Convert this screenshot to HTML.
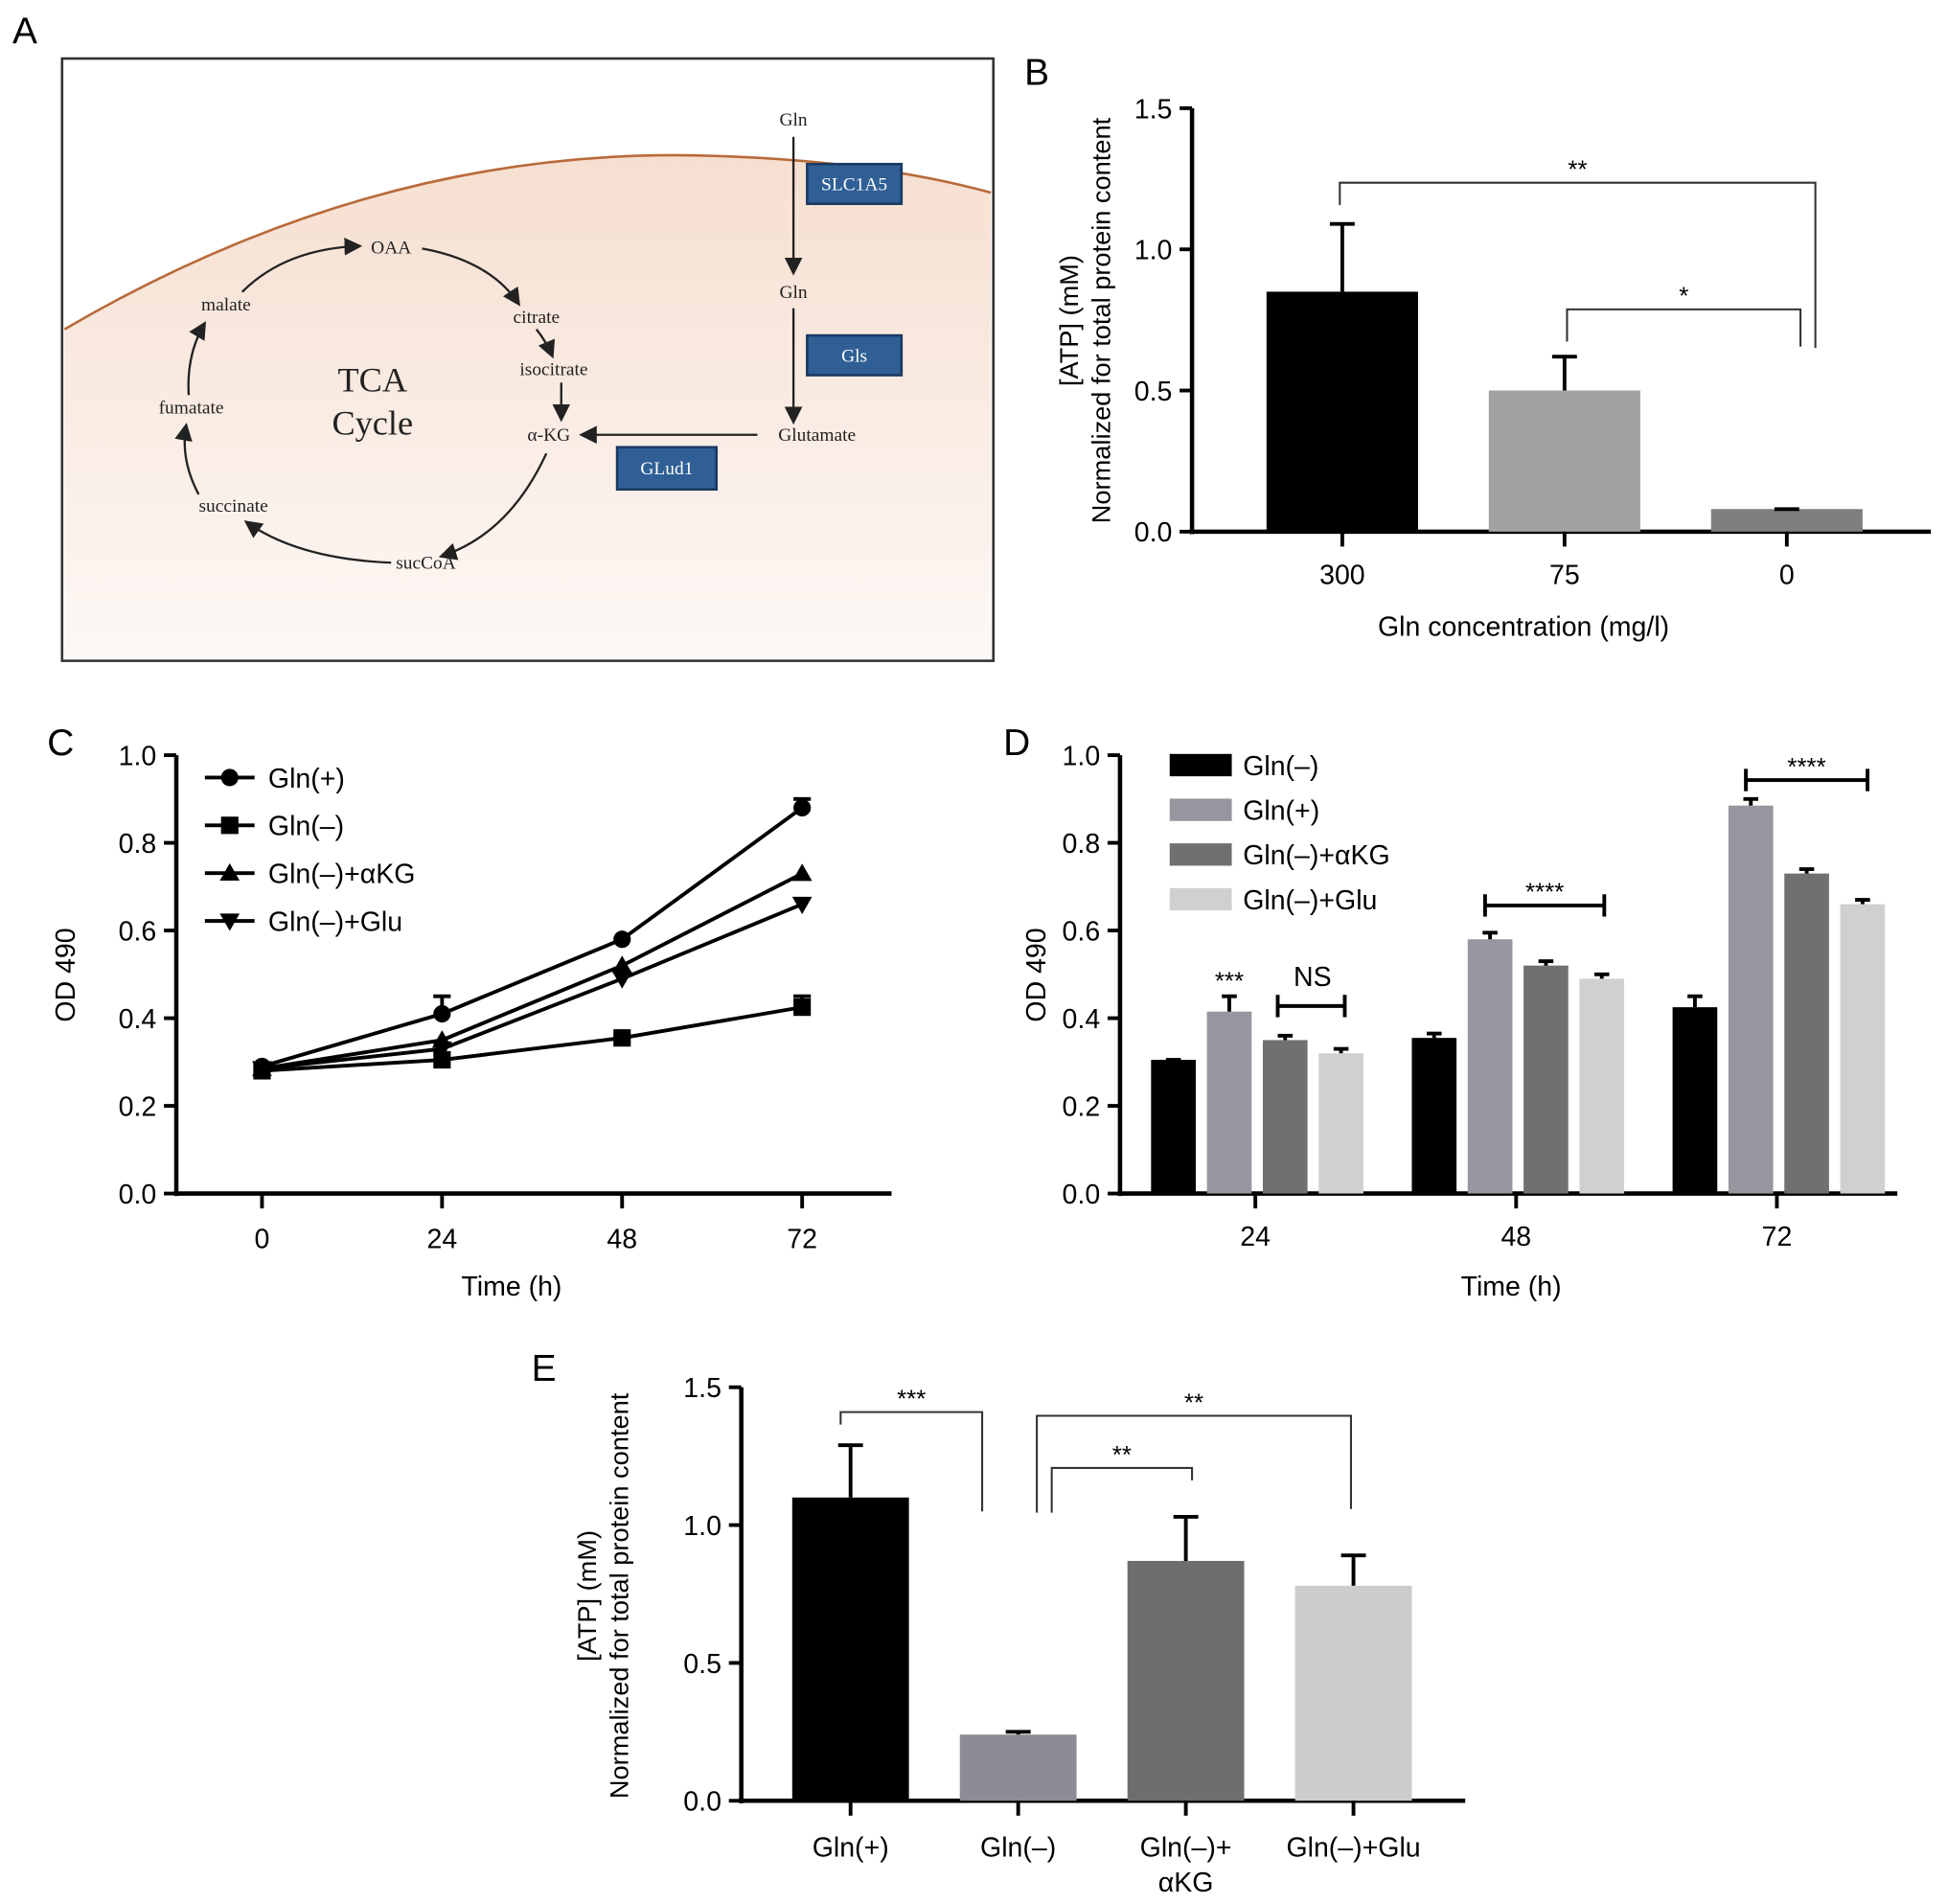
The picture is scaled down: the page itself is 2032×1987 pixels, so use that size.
<!DOCTYPE html>
<html><head><meta charset="utf-8"><style>
html,body{margin:0;padding:0;background:#fff}
svg{display:block;font-family:"Liberation Sans",sans-serif}
.s{font-family:"Liberation Serif",serif}
</style></head><body>
<svg id="fig" width="2032" height="1987" viewBox="0 0 1568 1533" xmlns="http://www.w3.org/2000/svg">
<defs>
<linearGradient id="cell" x1="0" y1="0" x2="0" y2="1">
<stop offset="0" stop-color="#f6dfd0"/><stop offset="1" stop-color="#fdf8f5"/></linearGradient>
<marker id="ar" markerWidth="8" markerHeight="8" refX="7" refY="4" orient="auto"><path d="M0,0 L8,4 L0,8 z" fill="#222"/></marker>
</defs>
<!-- Panel A -->
<g>
<text x="10" y="35" font-size="30">A</text>
<rect x="50" y="47" width="750" height="485" fill="#fff" stroke="#333" stroke-width="2"/>
<path d="M52,265 Q300,120 560,125 Q700,128 798,155 L798,530 L52,530 z" fill="url(#cell)"/>
<path d="M52,265 Q300,120 560,125 Q700,128 798,155" fill="none" stroke="#b86a3a" stroke-width="2"/>
<g class="s" font-size="15" fill="#222">
<text x="315" y="204" text-anchor="middle">OAA</text>
<text x="432" y="260" text-anchor="middle">citrate</text>
<text x="446" y="302" text-anchor="middle">isocitrate</text>
<text x="442" y="355" text-anchor="middle">α-KG</text>
<text x="343" y="458" text-anchor="middle">sucCoA</text>
<text x="188" y="412" text-anchor="middle">succinate</text>
<text x="154" y="333" text-anchor="middle">fumatate</text>
<text x="182" y="250" text-anchor="middle">malate</text>
<text x="300" y="315" text-anchor="middle" font-size="28">TCA</text>
<text x="300" y="350" text-anchor="middle" font-size="28">Cycle</text>
<text x="639" y="101" text-anchor="middle">Gln</text>
<text x="639" y="240" text-anchor="middle">Gln</text>
<text x="658" y="355" text-anchor="middle">Glutamate</text>
</g>
<g fill="none" stroke="#222" stroke-width="1.8" marker-end="url(#ar)">
<path d="M195,235 Q230,200 290,198"/><path d="M340,200 Q395,210 418,245"/>
<path d="M432,265 Q440,275 445,287"/><path d="M452,308 L452,338"/>
<path d="M440,365 Q410,430 355,448"/><path d="M315,453 Q240,450 198,420"/>
<path d="M160,398 Q145,370 150,342"/><path d="M152,318 Q150,285 165,260"/>
<path d="M639,110 L639,220"/><path d="M639,248 L639,340"/><path d="M610,350 L468,350"/>
</g>
<g class="s" font-size="15" fill="#fff">
<rect x="650" y="132" width="76" height="32" fill="#2f5f95" stroke="#1a3a60" stroke-width="2"/><text x="688" y="153" text-anchor="middle">SLC1A5</text>
<rect x="650" y="270" width="76" height="32" fill="#2f5f95" stroke="#1a3a60" stroke-width="2"/><text x="688" y="291" text-anchor="middle">Gls</text>
<rect x="497" y="360" width="80" height="34" fill="#2f5f95" stroke="#1a3a60" stroke-width="2"/><text x="537" y="382" text-anchor="middle">GLud1</text>
</g>
</g>
<g id="charts"></g>
<g font-size="30">
<text x="825" y="68">B</text><text x="38" y="608">C</text><text x="808" y="608">D</text><text x="428" y="1112">E</text>
</g>
</svg>
<script>
// Panel B data
const bCats=["300","75","0"];
const bVals=[0.85,0.5,0.08];
const bErr=[1.09,0.62,0.08];
const bTicks=[0,0.5,1.0,1.5];
// Panel C data
const cX=[0,24,48,72];
const cNames=["Gln(+)","Gln(–)","Gln(–)+αKG","Gln(–)+Glu"];
const cPlus=[0.29,0.41,0.58,0.88];
const cMinus=[0.28,0.305,0.355,0.425];
const cAkg=[0.285,0.35,0.52,0.73];
const cGlu=[0.285,0.33,0.49,0.66];
const cPlusErr=[0.29,0.45,0.58,0.90];
const cMinusErr=[0.28,0.31,0.355,0.45];
const cdTicks=[0,0.2,0.4,0.6,0.8,1.0];
// Panel D data
const dCats=["24","48","72"];
const dNames=["Gln(–)","Gln(+)","Gln(–)+αKG","Gln(–)+Glu"];
const dMinus=[0.305,0.355,0.425];
const dPlus=[0.415,0.58,0.885];
const dAkg=[0.35,0.52,0.73];
const dGlu=[0.32,0.49,0.66];
const dPlusErr=[0.45,0.595,0.90];
const dMinusErr=[0.305,0.365,0.45];
// Panel E data
const eCats=["Gln(+)","Gln(–)","Gln(–)+|αKG","Gln(–)+Glu"];
const eVals=[1.1,0.24,0.87,0.78];
const eErr=[1.29,0.25,1.03,0.89];

const NS="http://www.w3.org/2000/svg";
const root=document.getElementById('charts');
function mk(t,a,p,txt){const e=document.createElementNS(NS,t);for(const k in a)e.setAttribute(k,a[k]);if(txt!==undefined)e.textContent=txt;(p||root).appendChild(e);return e;}
function line(p,x1,y1,x2,y2,w){return mk('line',{x1,y1,x2,y2,stroke:'#000','stroke-width':w||3},p);}

function axes(g,x0,x1,yTop,yBot,ticks,maxV,fmt){
  const ys=v=>yBot-(v/maxV)*(yBot-yTop);
  line(g,x0,yTop,x0,yBot+2,3.5);line(g,x0-2,yBot,x1,yBot,3.5);
  ticks.forEach(t=>{line(g,x0-10,ys(t),x0,ys(t),3);
    const tx=mk('text',{x:x0-16,y:ys(t)+8,'text-anchor':'end','font-size':22},g,t.toFixed(1));
    });
  return ys;
}
function bracket(g,x1,x2,y,d1,d2,label){
  mk('path',{d:`M${x1},${y+d1} L${x1},${y} L${x2},${y} L${x2},${y+d2}`,fill:'none',stroke:'#333','stroke-width':1.6},g);
  const t=mk('text',{x:(x1+x2)/2,y:y-4,'text-anchor':'middle','font-size':20},g,label);
  
}
function errbar(g,x,ytop,ybar,w){line(g,x,ytop,x,ybar,3);line(g,x-w,ytop,x+w,ytop,3);}

// ---- B ----
{const g=mk('g',{});
 const ys=axes(g,960,1555,87,428,bTicks,1.5);
 const cols=['#000','#a2a2a2','#7e7e7e'];
 bCats.forEach((c,i)=>{const cx=1081+i*179;
  const r=mk('rect',{x:cx-61,y:ys(bVals[i]),width:122,height:428-ys(bVals[i]),fill:cols[i]},g);
  
  errbar(g,cx,ys(bErr[i]),ys(bVals[i]),10);
  line(g,cx,428,cx,440,3);
  const t=mk('text',{x:cx,y:470,'text-anchor':'middle','font-size':22},g,c);
  });
 const xt=mk('text',{x:1227,y:512,'text-anchor':'middle','font-size':22},g,'Gln concentration (mg/l)');
 
 const yt=mk('text',{transform:'translate(868,258) rotate(-90)','text-anchor':'middle','font-size':21},g);
 
 mk('tspan',{x:0,dy:0},yt,'[ATP] (mM)');mk('tspan',{x:0,dy:26},yt,'Normalized for total protein content');
 bracket(g,1079,1462,147,18,133,'**');bracket(g,1262,1450,249,26,30,'*');}

// ---- C ----
{const g=mk('g',{});
 const ys=axes(g,142,718,608,961,cdTicks,1.0);
 const xs=v=>211+v*(646-211)/72;
 cX.forEach(v=>{line(g,xs(v),961,xs(v),973,3);const t=mk('text',{x:xs(v),y:1005,'text-anchor':'middle','font-size':22},g,String(v));
  });
 const xt=mk('text',{x:412,y:1043,'text-anchor':'middle','font-size':22},g,'Time (h)');
 
 const yt=mk('text',{transform:'translate(60,785) rotate(-90)','text-anchor':'middle','font-size':22},g,'OD 490');
 
 const series=[cPlus,cMinus,cAkg,cGlu];const errs=[cPlusErr,cMinusErr,null,null];
 const marker=(p,k,x,y)=>{if(k===0)return mk('circle',{cx:x,cy:y,r:7,fill:'#000'},p);
  if(k===1)return mk('rect',{x:x-7,y:y-7,width:14,height:14,fill:'#000'},p);
  if(k===2)return mk('path',{d:`M${x},${y-8} L${x+8},${y+6} L${x-8},${y+6} z`,fill:'#000'},p);
  return mk('path',{d:`M${x},${y+8} L${x+8},${y-6} L${x-8},${y-6} z`,fill:'#000'},p);};
 series.forEach((s,k)=>{const sg=mk('g',{},g);
  if(errs[k])s.forEach((v,i)=>{if(errs[k][i]>v+0.005)errbar(sg,xs(cX[i]),ys(errs[k][i]),ys(v),7);});
  mk('polyline',{points:s.map((v,i)=>xs(cX[i])+','+ys(v)).join(' '),fill:'none',stroke:'#000','stroke-width':3},sg);
  s.forEach((v,i)=>{const m=marker(sg,k,xs(cX[i]),ys(v));});
  const ly=626+k*38.5;const lg=mk('g',{},g);
  line(lg,165,ly,205,ly,3);marker(lg,k,185,ly);mk('text',{x:216,y:ly+8,'font-size':22},lg,cNames[k]);});}

// ---- D ----
{const g=mk('g',{});
 const ys=axes(g,902,1528,608,961,cdTicks,1.0);
 const cols=['#000','#96969e','#707070','#d0d0d0'];
 const series=[dMinus,dPlus,dAkg,dGlu];
 dCats.forEach((c,gi)=>{const x0=927+gi*210;
  series.forEach((s,k)=>{const x=x0+k*45;
   const r=mk('rect',{x:x,y:ys(s[gi]),width:36,height:961-ys(s[gi]),fill:cols[k]},g);
   });
  errbar(g,x0+18,ys(dMinusErr[gi]),ys(dMinus[gi]),6);
  errbar(g,x0+45+18,ys(dPlusErr[gi]),ys(dPlus[gi]),6);
  errbar(g,x0+90+18,ys(dAkg[gi]+0.01),ys(dAkg[gi]),6);
  errbar(g,x0+135+18,ys(dGlu[gi]+0.01),ys(dGlu[gi]),6);
  const cx=x0+84;line(g,cx,961,cx,973,3);
  const t=mk('text',{x:cx,y:1003,'text-anchor':'middle','font-size':22},g,c);
  });
 const xt=mk('text',{x:1217,y:1043,'text-anchor':'middle','font-size':22},g,'Time (h)');
 
 const yt=mk('text',{transform:'translate(842,785) rotate(-90)','text-anchor':'middle','font-size':22},g,'OD 490');
 
 dNames.forEach((n,k)=>{const ly=616+k*36;const lg=mk('g',{},g);
  mk('rect',{x:942,y:ly-9,width:50,height:18,fill:cols[k]},lg);mk('text',{x:1001,y:ly+8,'font-size':22},lg,n);});
 const sig=(x1,x2,y,l)=>{line(g,x1,y,x2,y,3);line(g,x1,y-9,x1,y+9,3);line(g,x2,y-9,x2,y+9,3);
  const t=mk('text',{x:(x1+x2)/2,y:y-4,'text-anchor':'middle','font-size':20},g,l);};
 const t3=mk('text',{x:990,y:ys(0.46)-2,'text-anchor':'middle','font-size':20},g,'***');
 line(g,1029,810,1083,810,3);line(g,1029,801,1029,819,3);line(g,1083,801,1083,819,3);
 const ns=mk('text',{x:1057,y:794,'text-anchor':'middle','font-size':22},g,'NS');
 sig(1196,1292,729,'****');sig(1406,1504,628,'****');}

// ---- E ----
{const g=mk('g',{});
 const ys=axes(g,597,1180,1117,1450,bTicks,1.5);
 const cols=['#000','#8c8c96','#6e6e6e','#cccccc'];
 eCats.forEach((c,i)=>{const cx=685+i*135;
  const r=mk('rect',{x:cx-47,y:ys(eVals[i]),width:94,height:1450-ys(eVals[i]),fill:cols[i]},g);
  
  errbar(g,cx,ys(eErr[i]),ys(eVals[i]),10);line(g,cx,1450,cx,1462,3);
  c.split('|').forEach((p,j)=>{const t=mk('text',{x:cx,y:1495+j*28,'text-anchor':'middle','font-size':22},g,p);
   });});
 const yt=mk('text',{transform:'translate(480,1285) rotate(-90)','text-anchor':'middle','font-size':21},g);
 
 mk('tspan',{x:0,dy:0},yt,'[ATP] (mM)');mk('tspan',{x:0,dy:26},yt,'Normalized for total protein content');
 bracket(g,677,791,1137,10,80,'***');bracket(g,835,1088,1140,78,75,'**');bracket(g,847,960,1182,36,10,'**');}
</script>
</body></html>
